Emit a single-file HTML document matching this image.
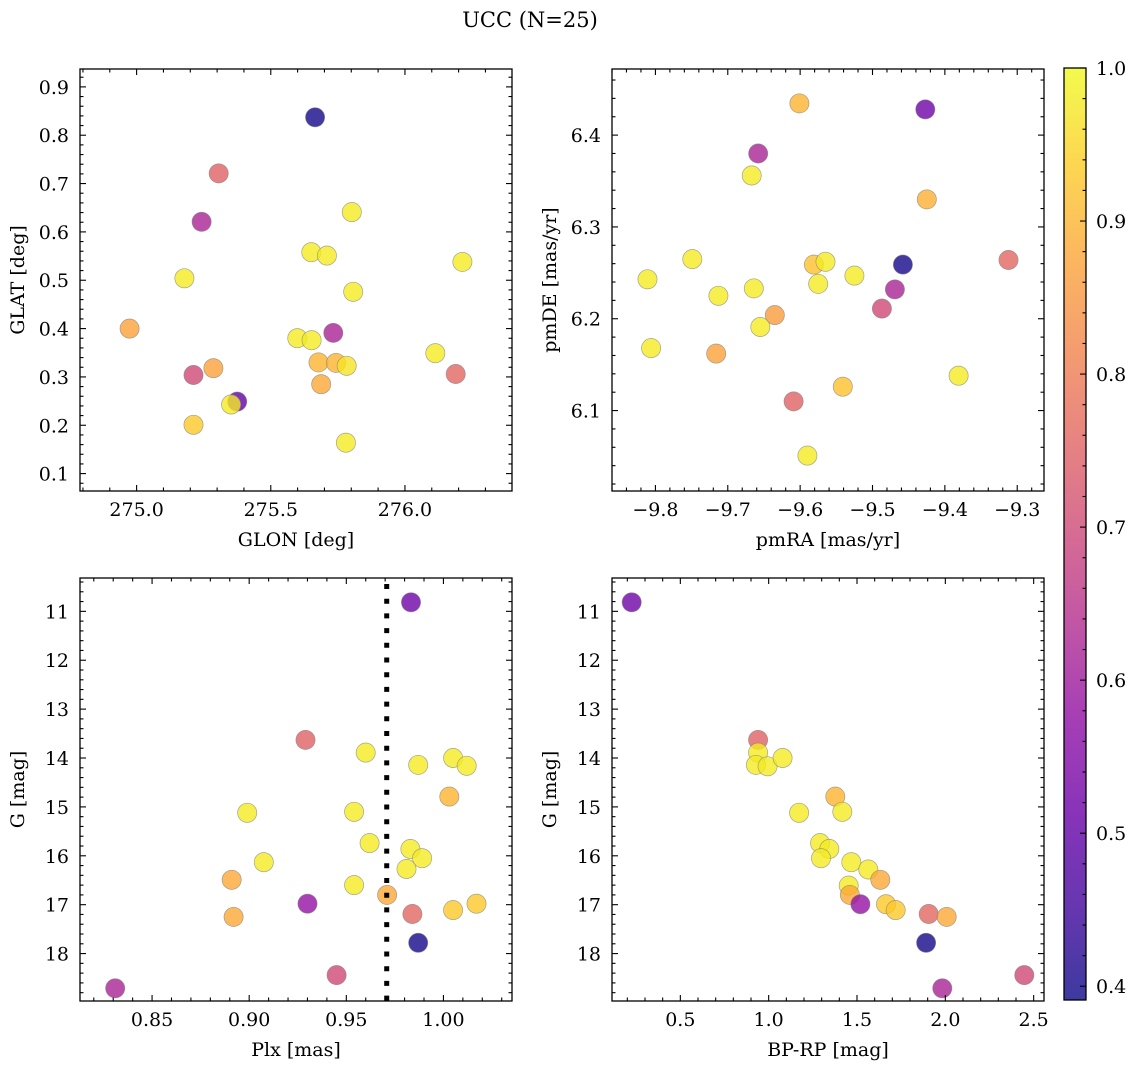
<!DOCTYPE html>
<html><head><meta charset="utf-8">
<style>
html,body{margin:0;padding:0;background:#fff;}
svg{display:block;font-family:"DejaVu Serif","Liberation Serif",serif;}
</style></head>
<body>
<svg id="fig" width="1136" height="1068" viewBox="0 0 1136 1068" xmlns="http://www.w3.org/2000/svg">
<text x="530" y="27" font-size="21" text-anchor="middle">UCC (N=25)</text>
</svg>
<script>
// ---- data ----
const glon = [275.665,275.306,275.242,275.802,275.651,275.709,275.178,276.214,275.807,274.974,275.599,275.652,275.733,276.113,275.212,275.286,275.678,275.743,275.783,275.688,276.189,275.375,275.352,275.212,275.780];
const glat = [0.837,0.721,0.621,0.641,0.558,0.551,0.504,0.538,0.476,0.400,0.380,0.376,0.391,0.349,0.304,0.318,0.330,0.329,0.323,0.285,0.306,0.249,0.243,0.201,0.164];
const probTL = [0.40,0.75,0.62,0.98,0.98,0.98,0.98,0.98,0.98,0.87,0.98,0.98,0.62,0.98,0.70,0.87,0.90,0.90,0.97,0.88,0.76,0.50,0.98,0.93,0.98];

const pmra = [-9.601,-9.427,-9.658,-9.667,-9.425,-9.749,-9.811,-9.713,-9.664,-9.581,-9.565,-9.575,-9.525,-9.635,-9.655,-9.806,-9.716,-9.458,-9.469,-9.487,-9.312,-9.381,-9.541,-9.609,-9.590];
const pmde = [6.4345,6.428,6.380,6.356,6.330,6.265,6.243,6.225,6.233,6.259,6.262,6.238,6.247,6.204,6.191,6.168,6.162,6.259,6.232,6.211,6.264,6.138,6.126,6.110,6.051];
const probTR = [0.90,0.52,0.62,0.98,0.89,0.98,0.98,0.98,0.98,0.92,0.98,0.98,0.98,0.86,0.98,0.98,0.87,0.40,0.62,0.70,0.76,0.98,0.92,0.75,0.98];

const plx = [0.9833,0.929,0.960,0.987,1.005,1.012,1.003,0.899,0.954,0.962,0.983,0.989,0.981,0.9075,0.891,0.954,0.971,0.930,1.005,1.017,0.984,0.892,0.987,0.945,0.831];
const gmagBL = [10.816,13.63,13.89,14.14,14.00,14.16,14.79,15.12,15.10,15.74,15.86,16.05,16.27,16.13,16.49,16.60,16.80,16.98,17.11,16.98,17.19,17.25,17.78,18.44,18.71];
const probBL = [0.52,0.75,0.98,0.98,0.98,0.98,0.90,0.98,0.98,0.98,0.98,0.98,0.98,0.98,0.88,0.98,0.88,0.58,0.93,0.93,0.76,0.88,0.40,0.70,0.62];

const bprp = [0.2245,0.94,0.94,0.928,0.994,1.079,1.377,1.172,1.417,1.291,1.343,1.296,1.468,1.564,1.632,1.453,1.460,1.519,1.664,1.719,1.906,2.008,1.891,2.447,1.983];
const gmagBR = [10.816,13.63,13.89,14.14,14.17,14.00,14.79,15.12,15.10,15.74,15.86,16.05,16.13,16.28,16.49,16.61,16.80,16.99,16.99,17.11,17.19,17.25,17.78,18.44,18.71];
const probBR = [0.52,0.75,0.98,0.98,0.98,0.98,0.90,0.98,0.98,0.98,0.98,0.98,0.98,0.98,0.88,0.98,0.88,0.58,0.93,0.93,0.76,0.88,0.40,0.70,0.62];

const plxLine = [0.9708];
const ticksTLx = [275.0,275.5,276.0], labelsTLx = ["275.0","275.5","276.0"];
const ticksTLy = [0.1,0.2,0.3,0.4,0.5,0.6,0.7,0.8,0.9], labelsTLy = ["0.1","0.2","0.3","0.4","0.5","0.6","0.7","0.8","0.9"];
const ticksTRx = [-9.8,-9.7,-9.6,-9.5,-9.4,-9.3], labelsTRx = ["\u22129.8","\u22129.7","\u22129.6","\u22129.5","\u22129.4","\u22129.3"];
const ticksTRy = [6.1,6.2,6.3,6.4], labelsTRy = ["6.1","6.2","6.3","6.4"];
const ticksBLx = [0.85,0.90,0.95,1.00], labelsBLx = ["0.85","0.90","0.95","1.00"];
const ticksG = [11,12,13,14,15,16,17,18], labelsG = ["11","12","13","14","15","16","17","18"];
const ticksBRx = [0.5,1.0,1.5,2.0,2.5], labelsBRx = ["0.5","1.0","1.5","2.0","2.5"];
const ticksCB = [0.4,0.5,0.6,0.7,0.8,0.9,1.0], labelsCB = ["0.4","0.5","0.6","0.7","0.8","0.9","1.0"];
const cbMin = 0.391, cbMax = 1.0;

// ---- helpers ----
const NS = "http://www.w3.org/2000/svg";
const svg = document.getElementById("fig");
const FS = 19;
function el(tag, attrs, parent){ const e=document.createElementNS(NS,tag); for(const k in attrs) e.setAttribute(k,attrs[k]); (parent||svg).appendChild(e); return e; }
const plasma = [[13,8,135],[65,4,157],[106,0,168],[143,13,164],[177,42,144],[204,71,120],[225,100,98],[242,132,75],[252,166,54],[252,206,37],[240,249,33]];
function cmap(t){ t=Math.max(0,Math.min(1,t)); const f=t*10, i=Math.min(9,Math.floor(f)), r=f-i; const a=plasma[i], b=plasma[i+1];
  return "rgb("+a.map((v,k)=>Math.round(v+(b[k]-v)*r)).join(",")+")"; }
function color(p){ return cmap((p-cbMin)/(cbMax-cbMin)); }

function panel(name, box, xd, yd, xt, xl, yt, yl, xstep, ystep, xlabel, ylabel, xs, ys, cs){
  const g = el("g", {}); 
  
  
  const sx = v => box.x0 + (v-xd[0])/(xd[1]-xd[0])*(box.x1-box.x0);
  const sy = v => box.y1 - (v-yd[0])/(yd[1]-yd[0])*(box.y1-box.y0);
  const pts = el("g", {}, g);
  
  
  for(let i=0;i<xs.length;i++){
    const c = el("circle", {cx:sx(xs[i]).toFixed(1), cy:sy(ys[i]).toFixed(1), r:9.6, fill:color(cs[i]), "fill-opacity":0.8, stroke:"#808080", "stroke-opacity":0.7, "stroke-width":0.7}, pts);
    
    
  }
  const tg = el("g", {stroke:"#000","stroke-width":1.1}, g);
  
  
  const xmin=Math.min(...xd), xmax=Math.max(...xd), ymin=Math.min(...yd), ymax=Math.max(...yd);
  const xm = xstep/5, ym = ystep/5;
  for(let v=Math.ceil(xmin/xm-1e-6)*xm; v<=xmax; v+=xm){
    const isMaj = xt.some(t=>Math.abs(t-v)<xm*0.1); const L = isMaj?6:3.5; const X=sx(v);
    el("line",{x1:X,y1:box.y1,x2:X,y2:box.y1-L},tg); el("line",{x1:X,y1:box.y0,x2:X,y2:box.y0+L},tg);
  }
  for(let v=Math.ceil(ymin/ym-1e-6)*ym; v<=ymax; v+=ym){
    const isMaj = yt.some(t=>Math.abs(t-v)<ym*0.1); const L = isMaj?6:3.5; const Y=sy(v);
    el("line",{x1:box.x0,y1:Y,x2:box.x0+L,y2:Y},tg); el("line",{x1:box.x1,y1:Y,x2:box.x1-L,y2:Y},tg);
  }
  const fr = el("rect",{x:box.x0,y:box.y0,width:box.x1-box.x0,height:box.y1-box.y0,fill:"none",stroke:"#000","stroke-width":1.3},g);
  
  
  xt.forEach((v,i)=>{ const t=el("text",{x:sx(v),y:box.y1+25,"font-size":FS,"text-anchor":"middle"},g); t.textContent=xl[i];
      });
  yt.forEach((v,i)=>{ const t=el("text",{x:box.x0-11,y:sy(v)+7,"font-size":FS,"text-anchor":"end"},g); t.textContent=yl[i];
      });
  const xa=el("text",{x:(box.x0+box.x1)/2,y:box.y1+55,"font-size":FS,"text-anchor":"middle"},g); xa.textContent=xlabel;
   
  const yx = box.x0-56, yc=(box.y0+box.y1)/2;
  const ya=el("text",{x:yx,y:yc,"font-size":FS,"text-anchor":"middle",transform:"rotate(-90 "+yx+" "+yc+")"},g); ya.textContent=ylabel;
   
  return {sx, sy, g};
}

panel("glon-glat-panel",{x0:80,x1:512,y0:69,y1:491},[274.789,276.399],[0.064,0.937],ticksTLx,labelsTLx,ticksTLy,labelsTLy,0.5,0.1,"GLON [deg]","GLAT [deg]",glon,glat,probTL);
panel("pm-panel",{x0:612,x1:1044,y0:69,y1:491},[-9.860,-9.263],[6.0124,6.472],ticksTRx,labelsTRx,ticksTRy,labelsTRy,0.1,0.1,"pmRA [mas/yr]","pmDE [mas/yr]",pmra,pmde,probTR);
const bl = panel("plx-g-panel",{x0:80,x1:512,y0:578,y1:1001},[0.8129,1.0353],[18.97,10.318],ticksBLx,labelsBLx,ticksG,labelsG,0.05,1,"Plx [mas]","G [mag]",plx,gmagBL,probBL);
panel("cmd-panel",{x0:612,x1:1044,y0:578,y1:1001},[0.1132,2.5585],[18.97,10.318],ticksBRx,labelsBRx,ticksG,labelsG,0.5,1,"BP-RP [mag]","G [mag]",bprp,gmagBR,probBR);

const X = bl.sx(plxLine[0]);
const dl = el("line",{x1:X,y1:584,x2:X,y2:1001,stroke:"#000","stroke-width":5,"stroke-dasharray":"5 9.7"});



const cb = {x0:1064,x1:1086,y0:68,y1:1000};
const cg = el("g",{});


const defs = el("defs",{},cg);
const grad = el("linearGradient",{id:"cbg",x1:0,y1:1,x2:0,y2:0},defs);
for(let i=0;i<=20;i++){ el("stop",{offset:i/20,"stop-color":cmap(i/20)},grad); }
el("rect",{x:cb.x0,y:cb.y0,width:cb.x1-cb.x0,height:cb.y1-cb.y0,fill:"url(#cbg)","fill-opacity":0.8},cg);
const csy = v => cb.y1 - (v-cbMin)/(cbMax-cbMin)*(cb.y1-cb.y0);
for(let v=0.4; v<=1.0001; v+=0.02){
  const maj = ticksCB.some(t=>Math.abs(t-v)<0.002); const Y=csy(v);
  el("line",{x1:cb.x1,y1:Y,x2:cb.x1-(maj?6:3.5),y2:Y,stroke:"#000","stroke-width":1.1},cg);
}
el("rect",{x:cb.x0,y:cb.y0,width:cb.x1-cb.x0,height:cb.y1-cb.y0,fill:"none",stroke:"#000","stroke-width":1.3},cg);
ticksCB.forEach((v,i)=>{ const t=el("text",{x:cb.x1+10,y:csy(v)+7,"font-size":FS},cg); t.textContent=labelsCB[i];
    });
</script>
</body></html>
